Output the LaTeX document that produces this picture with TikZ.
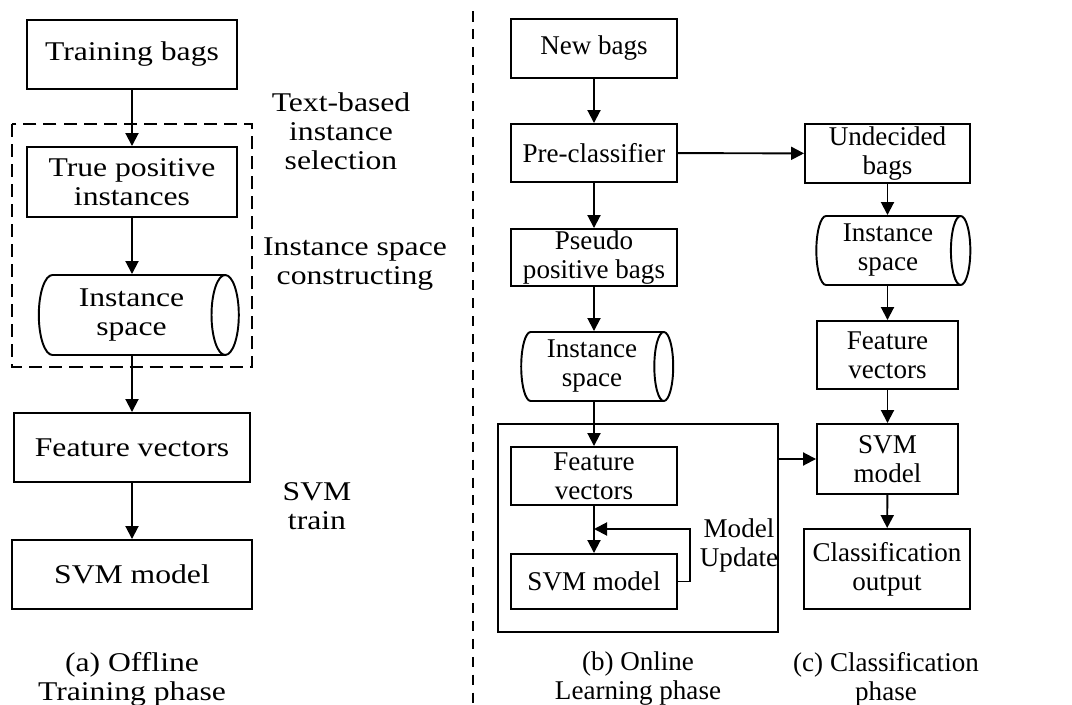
\documentclass[tikz,border=0pt]{standalone}
\usepackage{fontspec}
\setmainfont{Liberation Serif}
\newfontfamily\widefont[FakeStretch=1.17]{Liberation Serif}
\usepackage{tikz}
\usetikzlibrary{positioning}
\usetikzlibrary{shapes.geometric}
\usetikzlibrary{arrows.meta}

\begin{document}
\begin{tikzpicture}[
        box/.style = {
            draw,
            rectangle,
            line width = 1.1pt,
            align = center,
            inner sep = 0pt
        },
        store/.style = {
            draw,
            cylinder,
            line width = 1.1pt,
            align = center,
            inner sep = 0pt,
            aspect = #1
        },
        store/.default = 0.37,
        arr/.style = {-{Triangle[length=0.26cm, width=0.26cm]}, line width = 1.1pt},
        txt/.style = {align = center, inner sep = 0pt},
        wide/.style = {font = \widefont\fontsize{15.4pt}{16.5pt}\selectfont},
        font = \fontsize{15.4pt}{16.5pt}\selectfont
        ]
        \useasboundingbox (0,0) rectangle (21.44,14.08);
%
% (a) offline training
        \node[box, wide, minimum width=4.2cm, minimum height=1.38cm] (trainbags) at (2.64,12.99) {Training bags};
        \node[box, wide, minimum width=4.2cm, minimum height=1.4cm] (truepos) at (2.64,10.44) {True positive\\instances};
        \node[store=0.52, wide, minimum height=4.0cm, minimum width=1.6cm] (inspaceA) at (2.63,7.78) {Instance\\space};
        \node[box, wide, minimum width=4.72cm, minimum height=1.38cm] (featA) at (2.64,5.13) {Feature vectors};
        \node[box, wide, minimum width=4.8cm, minimum height=1.38cm] (svmA) at (2.64,2.59) {SVM model};
%
        \draw[line width = 1.1pt, dash pattern=on 7.4pt off 4pt] (0.24,11.6) rectangle (5.04,6.74);
%
        \node[txt, wide] (lblsel) at (6.82,11.46) {Text-based\\instance\\selection};
        \node[txt, wide] (lblcons) at (7.1,8.8) {Instance space\\constructing};
        \node[txt, wide] (lbltrain) at (6.34,3.96) {SVM\\train};
        \node[txt, wide] (capA) at (2.64,0.5) {(a) Offline\\Training phase};
%
        \draw[arr] (trainbags) -- (truepos);
        \draw[arr] (truepos.south) -- (truepos.south |- inspaceA.north);
        \draw[arr] (featA.north |- inspaceA.south) -- (featA.north);
        \draw[arr] (featA) -- (svmA);
%
% divider
        \coordinate (divtop) at (9.46,13.85);
        \coordinate (divbot) at (9.46,0);
        \draw[line width = 1.1pt, dash pattern=on 5.7pt off 4.5pt] (divtop) -- (divbot);
%
% (b) online learning
        \node[box, minimum width=3.32cm, minimum height=1.18cm] (newbags) at (11.88,13.11) {New bags};
        \node[box, minimum width=3.32cm, minimum height=1.16cm] (precls) at (11.88,11.02) {Pre-classifier};
        \node[box, minimum width=3.32cm, minimum height=1.14cm] (pseudo) at (11.88,8.93) {Pseudo\\positive bags};
        \node[store=0.36, minimum height=3.04cm, minimum width=1.38cm] (inspaceB) at (11.84,6.75) {Instance\\space};
        \node[box, minimum width=5.6cm, minimum height=4.16cm] (bigbox) at (12.76,3.52) {};
        \node[box, minimum width=3.32cm, minimum height=1.16cm] (featB) at (11.88,4.56) {Feature\\vectors};
        \node[box, minimum width=3.32cm, minimum height=1.1cm] (svmB) at (11.88,2.45) {SVM model};
        \coordinate (upd) at (13.8,3.5);
%
        \node[txt] (lblupd) at (14.78,3.18) {Model\\Update};
        \node[txt] (capB) at (12.76,0.5) {(b) Online\\Learning phase};
%
        \draw[arr] (newbags) -- (precls);
        \draw[arr] (precls) -- (pseudo);
        \draw[arr] (pseudo.south) -- (pseudo.south |- inspaceB.north);
        \draw[arr] (featB.north |- inspaceB.south) -- (featB.north);
        \draw[arr] (featB) -- (svmB);
        \draw[arr] (svmB.east) -| (upd) -- (upd -| featB.south);
%
% (c) classification
        \node[box, minimum width=3.3cm, minimum height=1.18cm] (undec) at (17.75,11.01) {Undecided\\bags};
        \node[store, minimum height=3.08cm, minimum width=1.38cm] (inspaceC) at (17.76,9.07) {Instance\\space};
        \node[box, minimum width=2.82cm, minimum height=1.36cm] (featC) at (17.75,6.98) {Feature\\vectors};
        \node[box, minimum width=2.82cm, minimum height=1.4cm] (svmC) at (17.75,4.9) {SVM\\model};
        \node[box, minimum width=3.32cm, minimum height=1.6cm] (clsout) at (17.74,2.7) {Classification\\output};
%
        \node[txt] (capC) at (17.72,0.5) {(c) Classification\\phase};
%
        \draw[arr] (precls) -- (undec);
        \draw[arr] (undec.south) -- (undec.south |- inspaceC.north);
        \draw[arr] (featC.north |- inspaceC.south) -- (featC.north);
        \draw[arr] (featC) -- (svmC);
        \draw[arr] (svmC) -- (clsout);
        \draw[arr] (bigbox.east |- svmC.west) -- (svmC.west);
%
    \end{tikzpicture}
\end{document}
